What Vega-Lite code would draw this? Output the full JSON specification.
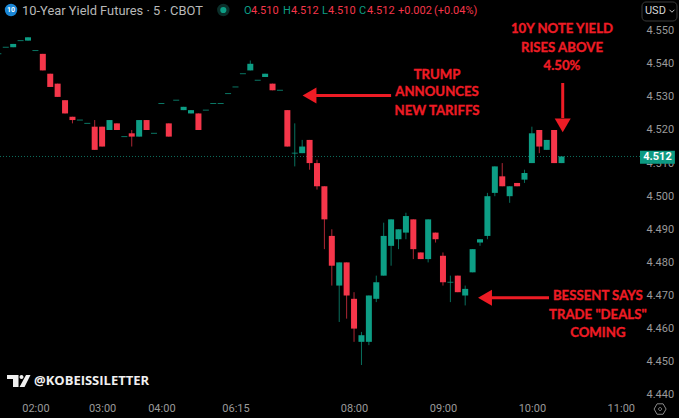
{
"$schema":"https://vega.github.io/schema/vega-lite/v6.json",
"width":640,"height":400,"autosize":{"type":"none"},
"padding":{"left":0,"top":0,"right":39,"bottom":18},
"background":"#000000",
"config":{"view":{"stroke":null},"axis":{"grid":false}},
"datasets":{
"candles":[
{"i":0,"o":4.543,"c":4.543,"h":4.543,"l":4.543,"d":"up"},
{"i":1,"o":4.545,"c":4.545,"h":4.545,"l":4.545,"d":"up"},
{"i":2,"o":4.545,"c":4.546,"h":4.546,"l":4.545,"d":"up"},
{"i":3,"o":4.547,"c":4.547,"h":4.547,"l":4.547,"d":"up"},
{"i":4,"o":4.547,"c":4.548,"h":4.548,"l":4.547,"d":"up"},
{"i":5,"o":4.544,"c":4.544,"h":4.544,"l":4.544,"d":"up"},
{"i":6,"o":4.543,"c":4.538,"h":4.543,"l":4.538,"d":"down"},
{"i":7,"o":4.537,"c":4.533,"h":4.537,"l":4.533,"d":"down"},
{"i":8,"o":4.534,"c":4.530,"h":4.534,"l":4.530,"d":"down"},
{"i":9,"o":4.529,"c":4.525,"h":4.529,"l":4.525,"d":"down"},
{"i":10,"o":4.524,"c":4.523,"h":4.524,"l":4.522,"d":"down"},
{"i":11,"o":4.523,"c":4.523,"h":4.523,"l":4.523,"d":"up"},
{"i":12,"o":4.522,"c":4.522,"h":4.522,"l":4.522,"d":"up"},
{"i":13,"o":4.521,"c":4.514,"h":4.523,"l":4.514,"d":"down"},
{"i":14,"o":4.521,"c":4.515,"h":4.521,"l":4.515,"d":"down"},
{"i":15,"o":4.520,"c":4.523,"h":4.523,"l":4.520,"d":"up"},
{"i":16,"o":4.522,"c":4.520,"h":4.522,"l":4.520,"d":"down"},
{"i":17,"o":4.518,"c":4.518,"h":4.518,"l":4.518,"d":"up"},
{"i":18,"o":4.519,"c":4.518,"h":4.520,"l":4.515,"d":"down"},
{"i":19,"o":4.518,"c":4.523,"h":4.523,"l":4.518,"d":"up"},
{"i":20,"o":4.523,"c":4.520,"h":4.523,"l":4.520,"d":"down"},
{"i":21,"o":4.519,"c":4.519,"h":4.519,"l":4.519,"d":"up"},
{"i":22,"o":4.528,"c":4.528,"h":4.528,"l":4.528,"d":"up"},
{"i":23,"o":4.522,"c":4.518,"h":4.522,"l":4.518,"d":"down"},
{"i":24,"o":4.529,"c":4.529,"h":4.529,"l":4.529,"d":"up"},
{"i":25,"o":4.526,"c":4.527,"h":4.527,"l":4.526,"d":"up"},
{"i":26,"o":4.525,"c":4.526,"h":4.526,"l":4.525,"d":"up"},
{"i":27,"o":4.525,"c":4.520,"h":4.525,"l":4.520,"d":"down"},
{"i":28,"o":4.526,"c":4.526,"h":4.526,"l":4.526,"d":"up"},
{"i":29,"o":4.528,"c":4.528,"h":4.528,"l":4.528,"d":"up"},
{"i":30,"o":4.528,"c":4.528,"h":4.528,"l":4.528,"d":"up"},
{"i":31,"o":4.531,"c":4.531,"h":4.531,"l":4.531,"d":"up"},
{"i":32,"o":4.533,"c":4.533,"h":4.533,"l":4.533,"d":"up"},
{"i":33,"o":4.537,"c":4.537,"h":4.537,"l":4.537,"d":"up"},
{"i":34,"o":4.538,"c":4.540,"h":4.541,"l":4.538,"d":"up"},
{"i":35,"o":4.535,"c":4.535,"h":4.535,"l":4.535,"d":"up"},
{"i":36,"o":4.536,"c":4.537,"h":4.537,"l":4.536,"d":"up"},
{"i":37,"o":4.534,"c":4.532,"h":4.534,"l":4.532,"d":"down"},
{"i":38,"o":4.532,"c":4.532,"h":4.532,"l":4.532,"d":"up"},
{"i":39,"o":4.526,"c":4.515,"h":4.526,"l":4.515,"d":"down"},
{"i":40,"o":4.513,"c":4.513,"h":4.522,"l":4.509,"d":"up"},
{"i":41,"o":4.513,"c":4.515,"h":4.517,"l":4.513,"d":"up"},
{"i":42,"o":4.517,"c":4.510,"h":4.517,"l":4.508,"d":"down"},
{"i":43,"o":4.510,"c":4.503,"h":4.511,"l":4.502,"d":"down"},
{"i":44,"o":4.503,"c":4.493,"h":4.503,"l":4.484,"d":"down"},
{"i":45,"o":4.488,"c":4.479,"h":4.490,"l":4.473,"d":"down"},
{"i":46,"o":4.473,"c":4.480,"h":4.480,"l":4.462,"d":"up"},
{"i":47,"o":4.480,"c":4.470,"h":4.480,"l":4.463,"d":"down"},
{"i":48,"o":4.469,"c":4.460,"h":4.471,"l":4.456,"d":"down"},
{"i":49,"o":4.456,"c":4.458,"h":4.459,"l":4.449,"d":"up"},
{"i":50,"o":4.456,"c":4.470,"h":4.470,"l":4.455,"d":"up"},
{"i":51,"o":4.469,"c":4.474,"h":4.476,"l":4.468,"d":"up"},
{"i":52,"o":4.476,"c":4.488,"h":4.492,"l":4.476,"d":"up"},
{"i":53,"o":4.485,"c":4.493,"h":4.493,"l":4.479,"d":"up"},
{"i":54,"o":4.487,"c":4.490,"h":4.490,"l":4.484,"d":"up"},
{"i":55,"o":4.489,"c":4.494,"h":4.495,"l":4.487,"d":"up"},
{"i":56,"o":4.493,"c":4.484,"h":4.493,"l":4.481,"d":"down"},
{"i":57,"o":4.483,"c":4.481,"h":4.483,"l":4.481,"d":"down"},
{"i":58,"o":4.481,"c":4.493,"h":4.493,"l":4.480,"d":"up"},
{"i":59,"o":4.489,"c":4.487,"h":4.489,"l":4.486,"d":"down"},
{"i":60,"o":4.482,"c":4.474,"h":4.483,"l":4.473,"d":"down"},
{"i":61,"o":4.474,"c":4.474,"h":4.476,"l":4.468,"d":"up"},
{"i":62,"o":4.476,"c":4.471,"h":4.476,"l":4.471,"d":"down"},
{"i":63,"o":4.470,"c":4.472,"h":4.473,"l":4.467,"d":"up"},
{"i":64,"o":4.477,"c":4.484,"h":4.484,"l":4.477,"d":"up"},
{"i":65,"o":4.486,"c":4.487,"h":4.487,"l":4.485,"d":"up"},
{"i":66,"o":4.488,"c":4.500,"h":4.501,"l":4.487,"d":"up"},
{"i":67,"o":4.501,"c":4.509,"h":4.509,"l":4.500,"d":"up"},
{"i":68,"o":4.506,"c":4.503,"h":4.510,"l":4.503,"d":"down"},
{"i":69,"o":4.500,"c":4.503,"h":4.503,"l":4.498,"d":"up"},
{"i":70,"o":4.504,"c":4.503,"h":4.504,"l":4.503,"d":"down"},
{"i":71,"o":4.505,"c":4.507,"h":4.508,"l":4.504,"d":"up"},
{"i":72,"o":4.510,"c":4.519,"h":4.521,"l":4.510,"d":"up"},
{"i":73,"o":4.520,"c":4.515,"h":4.520,"l":4.513,"d":"down"},
{"i":74,"o":4.514,"c":4.517,"h":4.517,"l":4.514,"d":"up"},
{"i":75,"o":4.520,"c":4.510,"h":4.520,"l":4.510,"d":"down"},
{"i":76,"o":4.510,"c":4.512,"h":4.512,"l":4.510,"d":"up"}
],
"notes":[
{"i":59.2,"v":4.5366,"t":"TRUMP"},
{"i":59.2,"v":4.5315,"t":"ANNOUNCES"},
{"i":59.2,"v":4.5257,"t":"NEW TARIFFS"},
{"i":76.06,"v":4.5505,"t":"10Y NOTE YIELD"},
{"i":76.06,"v":4.5448,"t":"RISES ABOVE"},
{"i":76.06,"v":4.5393,"t":"4.50%"},
{"i":80.9,"v":4.4699,"t":"BESSENT SAYS"},
{"i":80.9,"v":4.4641,"t":"TRADE \"DEALS\""},
{"i":80.9,"v":4.4587,"t":"COMING"}
],
"shafts":[
{"i":53.0,"i2":42.87,"v":4.5304,"v2":4.5304},
{"i":76.16,"i2":76.16,"v":4.5342,"v2":4.5236},
{"i":74.31,"i2":66.35,"v":4.4693,"v2":4.4693}
],
"heads":[
{"i":41.99,"v":4.5304,"dir":"left"},
{"i":76.16,"v":4.5214,"dir":"down"},
{"i":65.67,"v":4.4693,"dir":"left"}
],
"header":[
{"i":33.15,"v":4.55595,"t":"O","k":"grey"},
{"i":34.09,"v":4.55595,"t":"4.510","k":"green"},
{"i":38.41,"v":4.55595,"t":"H","k":"grey"},
{"i":39.49,"v":4.55595,"t":"4.512","k":"green"},
{"i":43.68,"v":4.55595,"t":"L","k":"grey"},
{"i":44.48,"v":4.55595,"t":"4.510","k":"green"},
{"i":48.67,"v":4.55595,"t":"C","k":"grey"},
{"i":49.75,"v":4.55595,"t":"4.512","k":"green"},
{"i":53.93,"v":4.55595,"t":"+0.002","k":"green"},
{"i":58.79,"v":4.55595,"t":"(+0.04%)","k":"green"}
]
},
"encoding":{
"x":{"field":"i","type":"quantitative","title":null,
"scale":{"domain":[0.2213,86.59],"nice":false,"zero":false,"padding":0},
"axis":{"values":[5,14,22,32,48,60,72,84],"labelExpr":"datum.value==5?'02:00':datum.value==14?'03:00':datum.value==22?'04:00':datum.value==32?'06:15':datum.value==48?'08:00':datum.value==60?'09:00':datum.value==72?'10:00':'11:00'","domain":false,"ticks":false,"labelColor":"#9a9a9a","labelFont":"Roboto","labelFontSize":11,"labelPadding":2,"labelFlush":false,"labelOverlap":false}},
"y":{"field":"v","type":"quantitative","title":null,
"scale":{"domain":[4.43843,4.55927],"nice":false,"zero":false},
"axis":{"orient":"right","values":[4.44,4.45,4.46,4.47,4.48,4.49,4.5,4.51,4.52,4.53,4.54,4.55],"format":".3f","domain":false,"ticks":false,"labelColor":"#9a9a9a","labelFont":"Roboto","labelFontSize":11,"labelPadding":6,"labelOverlap":false,"labelFlush":false}}
},
"layer":[
{"data":{"values":[{"v":4.512}]},"mark":{"type":"rule","color":"#0e6f5e","strokeWidth":1,"strokeDash":[1,2]},"encoding":{"x":{"value":0},"x2":{"value":640}}},
{"data":{"name":"candles"},"mark":{"type":"rule","strokeWidth":1,"opacity":0.7},
 "encoding":{"y":{"field":"l","type":"quantitative","title":null},"y2":{"field":"h"},
 "color":{"field":"d","type":"nominal","legend":null,"scale":{"domain":["up","down"],"range":["#0d9e85","#f5364a"]}}}},
{"data":{"name":"candles"},"transform":[{"filter":"datum.o!=datum.c"}],"mark":{"type":"bar","size":6,"orient":"vertical"},
 "encoding":{"y":{"field":"o","type":"quantitative","title":null},"y2":{"field":"c"},
 "color":{"field":"d","type":"nominal","legend":null}}},
{"data":{"name":"candles"},"transform":[{"filter":"datum.o==datum.c"}],"mark":{"type":"tick","orient":"horizontal","size":6,"thickness":1,"opacity":0.75},
 "encoding":{"y":{"field":"o","type":"quantitative","title":null},
 "color":{"field":"d","type":"nominal","legend":null}}},
{"data":{"name":"shafts"},"mark":{"type":"rule","color":"#ee1c25","strokeWidth":3},"encoding":{"x2":{"field":"i2"},"y2":{"field":"v2"}}},
{"data":{"name":"heads"},"mark":{"type":"point","filled":true,"size":256,"color":"#ee1c25","opacity":1},
 "encoding":{"shape":{"field":"dir","type":"nominal","legend":null,"scale":{"domain":["left","down"],"range":["triangle-left","triangle-down"]}}}},
{"data":{"name":"notes"},"mark":{"type":"text","font":"Lato","fontWeight":"bold","fontSize":13.2,"color":"#ee1c25","stroke":"#ee1c25","strokeWidth":0.35,"align":"center","baseline":"middle"},"encoding":{"text":{"field":"t"}}},
{"data":{"values":[{"i":3.19,"v":4.55595,"t":"10-Year Yield Futures · 5 · CBOT"}]},"mark":{"type":"text","font":"Roboto","fontSize":12.9,"color":"#b8b8b8","align":"left","baseline":"middle"},"encoding":{"text":{"field":"t"}}},
{"data":{"name":"header"},"mark":{"type":"text","font":"Roboto","fontSize":11,"align":"left","baseline":"middle"},
 "encoding":{"text":{"field":"t"},"color":{"field":"k","type":"nominal","legend":null,"scale":{"domain":["grey","green"],"range":["#9a9a9a","#0d9e85"]}}}},
{"data":{"values":[{"i":1.71,"v":4.55625}]},"mark":{"type":"point","shape":"circle","filled":true,"size":154,"color":"#1a86d6","opacity":1}},
{"data":{"values":[{"i":1.71,"v":4.55625,"t":"10"}]},"mark":{"type":"text","font":"Roboto","fontWeight":"bold","fontSize":7,"color":"#ffffff","align":"center","baseline":"middle"},"encoding":{"text":{"field":"t"}}},
{"data":{"values":[{"i":30.36,"v":4.55625}]},"mark":{"type":"point","shape":"circle","filled":true,"size":154,"color":"#0b2f2a","opacity":1}},
{"data":{"values":[{"i":30.36,"v":4.55625}]},"mark":{"type":"point","shape":"circle","filled":true,"size":38,"color":"#0d9e85","opacity":1}},
{"data":{"values":[{"i":86.86,"i2":91.58,"v":4.55867,"v2":4.55293}]},"mark":{"type":"rect","fill":"#000000","stroke":"#3a3a3a","strokeWidth":1,"cornerRadius":4},"encoding":{"x2":{"field":"i2"},"y2":{"field":"v2"}}},
{"data":{"values":[{"i":87.26,"v":4.55595,"t":"USD"}]},"mark":{"type":"text","font":"Roboto","fontSize":11,"color":"#d6d6d6","align":"left","baseline":"middle"},"encoding":{"text":{"field":"t"}}},
{"data":{"values":[{"i":90.9,"v":4.55595}]},"mark":{"type":"point","shape":"M-1,-0.5L0,0.5L1,-0.5","filled":false,"size":25,"color":"#c8c8c8","strokeWidth":1,"opacity":1}},
{"data":{"values":[{"i":86.59,"i2":91.3,"v":4.5137,"v2":4.5098}]},"mark":{"type":"rect","fill":"#0d9a82"},"encoding":{"x2":{"field":"i2"},"y2":{"field":"v2"}}},
{"data":{"values":[{"i":88.95,"v":4.5118,"t":"4.512"}]},"mark":{"type":"text","font":"Roboto","fontWeight":"bold","fontSize":11,"color":"#ffffff","align":"center","baseline":"middle"},"encoding":{"text":{"field":"t"}}},
{"data":{"values":[{"i":2.72,"v":4.4442}]},"mark":{"type":"point","shape":"M-1.15,-0.6L0,-0.6L0,0.6L-0.55,0.6L-0.55,-0.2L-1.15,-0.2ZM0.1,-0.4A0.2,0.2,0,1,1,0.5,-0.4A0.2,0.2,0,1,1,0.1,-0.4ZM0.75,-0.6L1.2,-0.6L0.6,0.6L0.1,0.6Z","filled":true,"size":400,"color":"#f0f0f0","strokeWidth":0,"opacity":1}},
{"data":{"values":[{"i":4.81,"v":4.4442,"t":"@KOBEISSILETTER"}]},"mark":{"type":"text","font":"Open Sans","fontWeight":"bold","fontSize":13,"color":"#f0f0f0","align":"left","baseline":"middle"},"encoding":{"text":{"field":"t"}}},
{"data":{"values":[{"i":89.3,"v":4.4357}]},"mark":{"type":"point","shape":"M-1,0L-0.5,-0.87L0.5,-0.87L1,0L0.5,0.87L-0.5,0.87ZM-0.25,0A0.25,0.25,0,1,1,0.25,0A0.25,0.25,0,1,1,-0.25,0Z","filled":false,"size":144,"color":"#8a8a8a","strokeWidth":1,"opacity":1}}
]
}
